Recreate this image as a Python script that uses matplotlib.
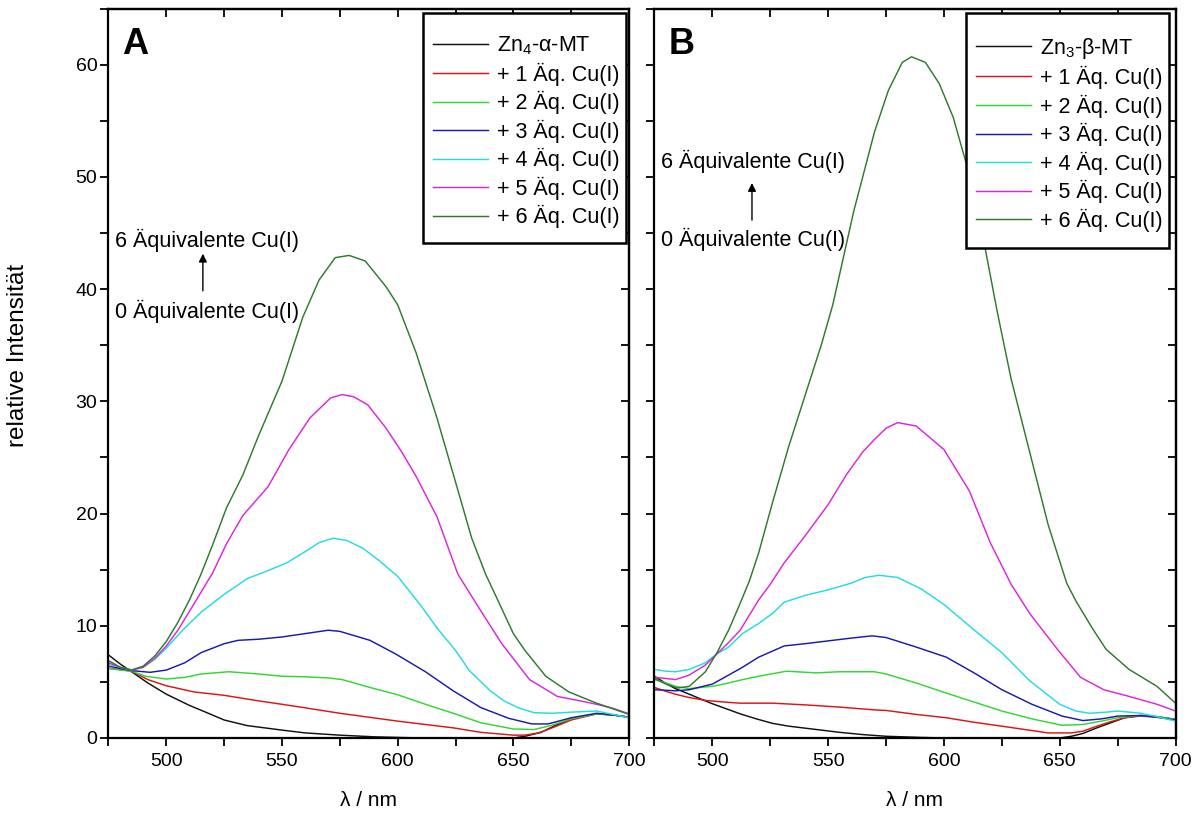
import matplotlib
matplotlib.use('Agg')
import matplotlib.pyplot as plt
from matplotlib.ticker import MultipleLocator, NullFormatter
from matplotlib.patches import Rectangle

plt.rcParams['font.family'] = ['Liberation Sans', 'DejaVu Sans']
plt.rcParams['mathtext.fontset'] = 'custom'
plt.rcParams['mathtext.rm'] = 'Liberation Sans'
plt.rcParams['mathtext.it'] = 'Liberation Sans:italic'
plt.rcParams['mathtext.default'] = 'regular'

# ---------------- data: panel A (Zn4-alpha-MT) ----------------
wlA_0 = [475, 480, 485, 492, 500, 510, 517, 525, 535, 550, 560, 575, 590, 600, 610, 650, 655, 662, 668, 675, 686, 693, 700]
A_0 = [7.4, 6.6, 5.9, 4.9, 3.9, 2.9, 2.3, 1.6, 1.1, 0.7, 0.45, 0.25, 0.1, 0.05, 0, 0, 0.15, 0.5, 1.1, 1.7, 2.15, 2.05, 1.85]

wlA_1 = [475, 480, 485, 492, 500, 512, 525, 540, 550, 558, 575, 600, 624, 636, 650, 655, 661, 668, 675, 686, 693, 700]
A_1 = [6.2, 6.1, 5.95, 5.2, 4.65, 4.1, 3.8, 3.3, 3.0, 2.75, 2.2, 1.5, 0.9, 0.5, 0.25, 0.25, 0.45, 1.0, 1.6, 2.15, 2.05, 1.85]

wlA_2 = [475, 480, 485, 491, 500, 508, 515, 527, 540, 550, 560, 570, 576, 588, 600, 612, 624, 636, 650, 659, 666, 675, 686, 693, 700]
A_2 = [6.2, 6.05, 5.95, 5.5, 5.25, 5.4, 5.7, 5.9, 5.7, 5.5, 5.45, 5.35, 5.2, 4.5, 3.85, 3.0, 2.2, 1.35, 0.8, 0.75, 1.1, 1.7, 2.15, 2.05, 1.85]

wlA_3 = [475, 480, 485, 493, 500, 508, 515, 525, 531, 540, 550, 560, 570, 575, 588, 599, 612, 624, 636, 648, 658, 665, 675, 686, 693, 700]
A_3 = [6.4, 6.2, 6.0, 5.85, 6.05, 6.7, 7.6, 8.4, 8.7, 8.8, 9.0, 9.3, 9.6, 9.5, 8.7, 7.5, 5.9, 4.2, 2.7, 1.75, 1.25, 1.25, 1.8, 2.2, 2.05, 1.85]

wlA_4 = [475, 480, 485, 490, 495, 500, 507, 515, 525, 535, 545, 552, 560, 566, 572, 578, 585, 592, 600, 610, 617, 625, 631, 640, 646, 652, 659, 667, 675, 686, 693, 700]
A_4 = [6.6, 6.3, 6.05, 6.3, 7.0, 8.0, 9.6, 11.2, 12.8, 14.2, 15.0, 15.6, 16.6, 17.4, 17.8, 17.6, 16.9, 15.8, 14.4, 11.8, 9.8, 7.8, 6.0, 4.2, 3.3, 2.7, 2.25, 2.2, 2.3, 2.4, 2.1, 1.8]

wlA_5 = [475, 480, 485, 490, 495, 500, 505, 513, 520, 526, 533, 544, 553, 562, 571, 576, 581, 587, 595, 602, 608, 617, 626, 636, 645, 657, 669, 679, 686, 693, 700]
A_5 = [6.7, 6.3, 6.05, 6.3, 7.1, 8.2, 9.6, 12.3, 14.7, 17.3, 19.8, 22.4, 25.7, 28.5, 30.3, 30.6, 30.4, 29.7, 27.6, 25.4, 23.3, 19.7, 14.6, 11.3, 8.4, 5.2, 3.7, 3.3, 3.0, 2.65, 2.15]

wlA_6 = [475, 480, 485, 490, 495, 500, 505, 510, 515, 520, 526, 533, 540, 550, 559, 566, 573, 579, 586, 595, 600, 608, 617, 626, 632, 638, 643, 650, 655, 664, 674, 686, 693, 700]
A_6 = [6.9, 6.3, 6.05, 6.4, 7.3, 8.6, 10.3, 12.3, 14.6, 17.2, 20.5, 23.4, 27.0, 31.8, 37.5, 40.8, 42.8, 43.0, 42.5, 40.2, 38.6, 34.3, 28.5, 22.1, 17.8, 14.6, 12.4, 9.3, 7.8, 5.5, 4.1, 3.1, 2.6, 2.1]

# ---------------- data: panel B (Zn3-beta-MT) ----------------
wlB_0 = [475, 480, 484, 490, 497, 500, 506, 512, 519, 526, 533, 541, 555, 565, 575, 590, 600, 650, 655, 660, 666, 672, 678, 685, 692, 700]
B_0 = [5.5, 4.85, 4.4, 3.9, 3.3, 3.05, 2.6, 2.15, 1.7, 1.3, 1.05, 0.85, 0.5, 0.3, 0.15, 0.05, 0, 0, 0.15, 0.4, 0.9, 1.35, 1.8, 2.0, 1.9, 1.65]

wlB_1 = [475, 480, 484, 490, 497, 505, 512, 520, 526, 540, 555, 570, 575, 588, 601, 613, 625, 635, 645, 655, 660, 666, 672, 678, 685, 692, 700]
B_1 = [4.5, 4.15, 3.9, 3.6, 3.35, 3.2, 3.1, 3.1, 3.1, 2.95, 2.75, 2.5, 2.45, 2.1, 1.8, 1.4, 1.05, 0.75, 0.45, 0.45, 0.6, 1.05, 1.45, 1.8, 1.95, 1.85, 1.65]

wlB_2 = [475, 480, 484, 490, 500, 506, 512, 520, 532, 545, 555, 570, 575, 588, 601, 613, 625, 638, 651, 660, 668, 675, 685, 692, 700]
B_2 = [5.2, 4.9, 4.6, 4.4, 4.6, 4.85, 5.15, 5.5, 5.95, 5.8, 5.9, 5.9, 5.7, 4.9, 4.0, 3.2, 2.4, 1.7, 1.13, 1.2, 1.5, 1.8, 2.0, 1.9, 1.65]

wlB_3 = [475, 480, 484, 490, 500, 507, 513, 520, 531, 540, 550, 560, 569, 575, 588, 601, 613, 625, 638, 651, 660, 668, 675, 685, 692, 700]
B_3 = [4.3, 4.25, 4.2, 4.3, 4.8, 5.6, 6.3, 7.2, 8.2, 8.4, 8.65, 8.9, 9.1, 8.95, 8.1, 7.2, 5.8, 4.3, 3.0, 1.95, 1.55, 1.7, 1.95, 2.0, 1.85, 1.6]

wlB_4 = [475, 480, 484, 490, 497, 502, 507, 513, 520, 526, 531, 540, 550, 560, 566, 572, 580, 590, 600, 612, 625, 637, 650, 657, 663, 670, 675, 685, 692, 700]
B_4 = [6.1, 5.95, 5.9, 6.1, 6.7, 7.5, 8.1, 9.3, 10.2, 11.1, 12.1, 12.7, 13.2, 13.8, 14.3, 14.5, 14.3, 13.3, 11.9, 9.8, 7.6, 5.1, 3.0, 2.4, 2.2, 2.3, 2.4, 2.2, 1.9, 1.5]

wlB_5 = [475, 480, 484, 490, 497, 502, 507, 512, 520, 525, 531, 540, 550, 558, 565, 570, 575, 580, 588, 600, 611, 620, 629, 637, 649, 659, 669, 680, 692, 700]
B_5 = [5.4, 5.3, 5.2, 5.6, 6.5, 7.5, 8.5, 9.6, 12.3, 13.7, 15.6, 18.0, 20.8, 23.5, 25.5, 26.6, 27.6, 28.1, 27.8, 25.7, 22.0, 17.4, 13.7, 11.1, 7.9, 5.4, 4.3, 3.7, 3.0, 2.4]

wlB_6 = [475, 480, 485, 490, 497, 502, 507, 512, 516, 520, 526, 533, 540, 547, 552, 561, 570, 576, 582, 586, 592, 598, 604, 611, 617, 623, 629, 637, 645, 653, 657, 664, 670, 680, 692, 700]
B_6 = [5.3, 4.8, 4.45, 4.6, 5.9, 7.6, 9.6, 12.0, 14.0, 16.5, 21.0, 26.0, 30.5, 35.0, 38.6, 46.9, 54.0, 57.7, 60.2, 60.7, 60.2, 58.3, 55.3, 50.2, 44.5, 38.0, 32.0, 25.5, 19.0, 13.8, 12.2, 9.8, 7.9, 6.1, 4.6, 3.1]

labels_A = ['Zn$_4$-α-MT', '+ 1 Äq. Cu(I)', '+ 2 Äq. Cu(I)', '+ 3 Äq. Cu(I)',
            '+ 4 Äq. Cu(I)', '+ 5 Äq. Cu(I)', '+ 6 Äq. Cu(I)']
labels_B = ['Zn$_3$-β-MT', '+ 1 Äq. Cu(I)', '+ 2 Äq. Cu(I)', '+ 3 Äq. Cu(I)',
            '+ 4 Äq. Cu(I)', '+ 5 Äq. Cu(I)', '+ 6 Äq. Cu(I)']
colors = ['#111111', '#dd1515', '#33d633', '#1a1ab0', '#22dde0', '#d828d8', '#2f7a2f']

x_ticks = [500, 550, 600, 650, 700]
y_ticks = [0, 10, 20, 30, 40, 50, 60]

series_A = [(wlA_0, A_0), (wlA_1, A_1), (wlA_2, A_2), (wlA_3, A_3), (wlA_4, A_4), (wlA_5, A_5), (wlA_6, A_6)]
series_B = [(wlB_0, B_0), (wlB_1, B_1), (wlB_2, B_2), (wlB_3, B_3), (wlB_4, B_4), (wlB_5, B_5), (wlB_6, B_6)]

fig = plt.figure(figsize=(12, 8.13), dpi=100)
axA = fig.add_axes([0.0904, 0.0923, 0.4338, 0.8972])
axB = fig.add_axes([0.5454, 0.0923, 0.4342, 0.8972])


def style(ax, series, labels, letter, show_ylabels, box, anchor):
    for (wl, v), c, lab in zip(series, colors, labels):
        ax.plot(wl, v, color=c, lw=1.05, label=lab)
    ax.set_xlim(475, 700)
    ax.set_ylim(0, 65)
    ax.set_xticks(x_ticks)
    ax.set_yticks(y_ticks)
    ax.xaxis.set_minor_locator(MultipleLocator(25))
    ax.yaxis.set_minor_locator(MultipleLocator(5))
    for s in ax.spines.values():
        s.set_linewidth(1.6)
    ax.tick_params(axis='both', which='both', direction='out', width=1.3,
                   top=False, right=False, length=6, labelsize=14)
    ax.tick_params(axis='x', pad=5)
    ax.tick_params(axis='y', pad=2)
    if not show_ylabels:
        ax.yaxis.set_major_formatter(NullFormatter())
    # top / right inward ticks
    top = ax.secondary_xaxis('top')
    top.set_xticks([475, 500, 525, 550, 575, 600, 625, 650, 675, 700])
    top.tick_params(direction='in', length=6, width=1.3, labeltop=False)
    top.spines['top'].set_linewidth(1.6)
    right = ax.secondary_yaxis('right')
    right.set_yticks([0, 5, 10, 15, 20, 25, 30, 35, 40, 45, 50, 55, 60])
    right.tick_params(direction='in', length=6, width=1.3, labelright=False)
    right.spines['right'].set_linewidth(1.6)

    ax.text(0.027, 0.975, letter, transform=ax.transAxes, fontsize=26,
            fontweight='bold', ha='left', va='top')
    x0, y0, w, h = box
    ax.add_patch(Rectangle((x0, y0), w, h, transform=ax.transAxes,
                           facecolor='white', edgecolor='black', lw=1.8,
                           zorder=4, clip_on=False))
    leg = ax.legend(loc='upper left', bbox_to_anchor=anchor,
                    bbox_transform=ax.transAxes, fontsize=15.5, frameon=False,
                    borderpad=0, borderaxespad=0, labelspacing=0.25,
                    handlelength=2.55, handletextpad=0.42)
    leg.set_zorder(5)


# legend frame boxes / anchors in axes fractions
style(axA, series_A, labels_A, 'A', True,
      (0.6042, 0.6785, 0.3900, 0.3153), (0.6234, 0.964))
style(axB, series_B, labels_B, 'B', False,
      (0.5979, 0.6717, 0.3899, 0.3221), (0.6166, 0.963))

# annotations
axA.text(477.9, 44.3, '6 Äquivalente Cu(I)', fontsize=15.5, ha='left', va='center')
axA.text(477.9, 38.0, '0 Äquivalente Cu(I)', fontsize=15.5, ha='left', va='center')
axA.annotate('', xy=(515.8, 43.4), xytext=(515.8, 39.6),
             arrowprops=dict(arrowstyle='-|>', color='black', lw=1.0, mutation_scale=12))
axB.text(477.7, 51.4, '6 Äquivalente Cu(I)', fontsize=15.5, ha='left', va='center')
axB.text(477.7, 44.4, '0 Äquivalente Cu(I)', fontsize=15.5, ha='left', va='center')
axB.annotate('', xy=(517.1, 49.7), xytext=(517.1, 45.9),
             arrowprops=dict(arrowstyle='-|>', color='black', lw=1.0, mutation_scale=12))

fig.text(368 / 1200, 1 - 800 / 813, 'λ / nm', fontsize=15, ha='center', va='center')
fig.text(915 / 1200, 1 - 800 / 813, 'λ / nm', fontsize=15, ha='center', va='center')
fig.text(18 / 1200, 1 - 355 / 813, 'relative Intensität', fontsize=17.5, rotation=90,
         ha='center', va='center')

fig.savefig('out.png', dpi=100)
